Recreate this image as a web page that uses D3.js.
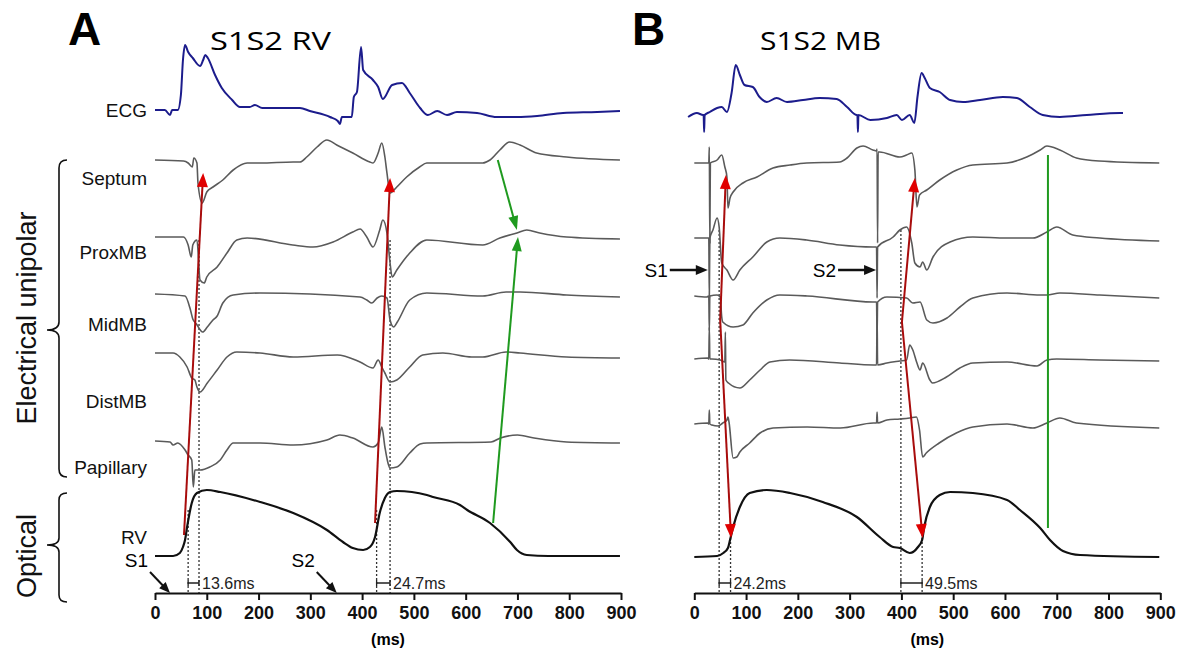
<!DOCTYPE html>
<html><head><meta charset="utf-8">
<script src="https://cdn.jsdelivr.net/npm/d3@7"></script>
<style>body{margin:0;background:#fff}svg{display:block}text{font-family:"Liberation Sans",Arial,sans-serif}</style>
</head><body>
<script>
// ---------- DATA (time in ms, amplitude in arbitrary units) ----------
const timeTicks = [0,100,200,300,400,500,600,700,800,900];
const channelNames = ["Septum","ProxMB","MidMB","DistMB","Papillary"];

const ecgA = [[0,0],[19,0],[29,-5],[33,0],[44,0],[50,15],[54,50],[58,65],[64,58],[73,52],[87,44],[93,50],[97,55],[102,52],[116,35],[129,22],[149,10],[164,3],[183,3],[193,5],[207,2],[241,2],[280,2],[299,-1],[338,-7],[353,-11],[357,-14],[361,-7],[380,-7],[384,13],[390,18],[398,63],[402,40],[421,30],[431,23],[440,11],[458,25],[477,27],[492,17],[512,2],[527,-5],[545,-1],[564,-5],[583,-2],[622,-3],[660,-7],[699,-7],[738,-6],[788,-3],[854,-2],[898,-1]];
const septumA = [[0,0],[55,-1],[64,-3],[72,-7],[75,2],[81,-3],[83,-23],[91,-43],[100,-32],[112,-27],[131,-20],[151,-10],[178,-3],[203,-3],[267,-2],[280,-2],[293,3],[313,13],[332,20],[351,15],[382,7],[415,-2],[421,-3],[431,7],[438,17],[444,3],[448,-13],[454,-33],[467,-27],[486,-17],[511,-7],[525,-3],[633,-3],[647,0],[666,10],[685,18],[705,15],[737,7],[795,3],[898,0]];
const proxA = [[0,0],[55,0],[64,-8],[70,-20],[73,-8],[81,-3],[87,-43],[95,-46],[100,-40],[120,-30],[139,-16],[158,-3],[178,-1],[266,-8],[305,-10],[344,-5],[382,5],[396,8],[409,0],[421,-10],[434,7],[440,17],[448,4],[454,-26],[458,-40],[467,-33],[492,-16],[525,-3],[633,-8],[666,-1],[699,4],[718,7],[743,4],[795,0],[898,-2]];
const midA = [[0,0],[58,-2],[68,-15],[73,-25],[80,-30],[92,-38],[101,-33],[112,-26],[120,-22],[131,-9],[151,-1],[203,1],[396,-3],[409,-6],[419,-9],[429,-4],[438,-2],[448,-4],[454,-26],[461,-33],[468,-28],[492,-6],[525,1],[633,-2],[678,2],[705,2],[795,-1],[898,-3]];
const distA = [[0,2],[35,2],[48,-2],[62,-12],[71,-23],[77,-25],[81,-32],[87,-37],[101,-28],[120,-15],[139,-2],[158,3],[203,2],[267,-2],[352,0],[396,-7],[421,-13],[431,-5],[438,-12],[444,-18],[454,-27],[467,-25],[492,-12],[517,0],[556,2],[612,-2],[633,-2],[678,3],[705,2],[795,-2],[898,-3]];
const papA = [[0,1],[29,0],[35,-3],[44,-1],[58,-8],[64,-13],[71,-18],[74,-45],[77,-28],[87,-28],[106,-25],[126,-18],[139,-8],[151,-1],[203,-1],[267,-3],[332,2],[357,7],[382,4],[421,-5],[431,-1],[438,15],[444,-5],[450,-21],[454,-26],[467,-25],[492,-11],[512,-2],[525,-1],[649,0],[667,4],[700,7],[732,4],[795,0],[898,-1]];
const rvA = [[0,0],[35,0],[48,3],[54,9],[58,16],[62,29],[71,53],[81,63],[100,66],[126,64],[203,54],[267,43],[332,26],[363,14],[382,8],[402,6],[415,9],[425,19],[434,43],[444,58],[454,64],[467,65],[525,61],[537,59],[589,51],[603,46],[647,33],[686,14],[699,6],[718,1],[760,0],[898,0]];

const ecgB = [[-12,-2],[5,2],[17,0],[18,0],[19,-17],[20,0],[30,3],[44,7],[53,8],[63,3],[72,22],[80,50],[88,40],[97,30],[113,28],[126,18],[140,13],[159,17],[179,13],[210,15],[242,17],[275,16],[295,8],[314,0],[315,0],[316,-17],[317,0],[340,-5],[372,-3],[391,0],[401,-5],[416,0],[425,-8],[431,18],[439,42],[445,37],[455,27],[474,23],[494,15],[519,13],[552,15],[596,18],[623,17],[648,8],[673,0],[706,-2],[758,0],[822,2],[828,2]];
const septumB = [[0,0],[24,0],[28,0],[29,16],[30,-80],[31,0],[44,3],[53,8],[59,-4],[63,-14],[65,-45],[69,-35],[75,-29],[94,-20],[121,-14],[152,-5],[185,-2],[217,0],[281,1],[295,5],[314,15],[326,17],[345,13],[352,12],[353,14],[354,-80],[355,11],[358,11],[397,6],[410,8],[420,10],[426,-7],[430,-44],[435,-32],[449,-27],[474,-17],[507,-7],[538,-2],[604,0],[642,6],[668,13],[681,17],[706,13],[738,5],[782,2],[898,0]];
const proxB = [[0,0],[24,0],[28,0],[29,-60],[30,0],[36,8],[44,20],[48,11],[53,-25],[63,-32],[75,-42],[88,-32],[113,-19],[140,-4],[165,0],[217,-2],[281,-7],[345,-9],[352,-9],[353,-60],[354,-9],[384,1],[397,8],[410,11],[420,-5],[426,-25],[436,-29],[441,-24],[449,-32],[461,-19],[494,-4],[538,1],[604,0],[654,0],[681,6],[700,11],[731,3],[783,0],[898,-3]];
const midB = [[0,0],[24,-1],[28,0],[29,-35],[30,0],[44,1],[50,-1],[53,-21],[55,-26],[75,-31],[94,-29],[113,-17],[140,-4],[165,1],[218,0],[345,-6],[352,-6],[353,-40],[354,-6],[372,-1],[410,-2],[422,-7],[436,-6],[449,-24],[461,-27],[488,-22],[513,-11],[538,-2],[604,3],[668,1],[681,1],[706,3],[783,1],[898,-2]];
const distB = [[0,0],[26,1],[28,0],[29,32],[30,0],[34,0],[50,-1],[59,-3],[60,27],[61,-21],[66,-24],[88,-29],[107,-21],[127,-11],[146,-3],[184,-1],[281,-4],[346,-6],[352,-6],[353,45],[354,-6],[372,-4],[397,-2],[410,-1],[416,14],[422,9],[430,-4],[436,-11],[441,-4],[455,-21],[460,-24],[487,-18],[513,-9],[538,-4],[604,-3],[662,-7],[681,-1],[700,0],[783,-1],[898,-2]];
const papB = [[0,0],[26,1],[28,0],[29,14],[30,0],[34,-1],[46,-2],[55,1],[63,4],[65,7],[67,2],[75,-34],[82,-33],[88,-28],[107,-19],[127,-9],[152,-4],[218,-3],[282,-4],[346,1],[352,1],[353,12],[354,1],[372,4],[397,5],[416,6],[429,7],[435,-6],[441,-33],[448,-29],[473,-19],[506,-9],[538,-3],[604,0],[654,-4],[681,1],[706,6],[738,1],[898,-4]];
const rvB = [[0,0],[44,1],[56,4],[65,9],[69,17],[75,30],[88,50],[107,64],[140,67],[185,64],[248,55],[314,40],[358,20],[384,10],[397,9],[416,4],[432,10],[440,17],[444,30],[455,50],[474,62],[494,65],[538,64],[604,57],[629,47],[668,29],[687,17],[712,6],[745,2],[898,0]];

// activation intervals (ms) and labels
const intervalsA = [{from:64,to:85,label:"13.6ms"},{from:428,to:454,label:"24.7ms"}];
const intervalsB = [{from:48,to:70,label:"24.2ms"},{from:399,to:440,label:"49.5ms"}];
// propagation arrows: [t, channel, amplitude]
const redArrowsA = [[[56,"RV",21],[93,"Septum",-13]],[[425,"RV",33],[454,"Septum",-18]]];
const greenArrowsA = [[[662,"Septum",0],[699,"ProxMB",7]],[[653,"RV",33],[701,"ProxMB",0]]];
const redArrowsB = [[[50,"MidMB",-24],[61,"Septum",-12]],[[50,"MidMB",-24],[71,"RV",19]],[[401,"MidMB",-26],[426,"Septum",-15]],[[401,"MidMB",-26],[441,"RV",19]]];
const greenLinesB = [[[683,"Septum",8],[683,"RV",29]]];
const stimA = [{label:"S1",t:29},{label:"S2",t:351}];
const stimB = [{label:"S1",t:28},{label:"S2",t:353}];

// ---------- LAYOUT ----------
const W = 1188, H = 655;
const svg = d3.select("body").append("svg").attr("width",W).attr("height",H);
const axisY = 593;
const panels = [
  {x0:155, title:"S1S2 RV", letter:"A", letterX:68, titleX:210,
   traces:{ECG:ecgA,Septum:septumA,ProxMB:proxA,MidMB:midA,DistMB:distA,Papillary:papA,RV:rvA},
   rows:{ECG:110,Septum:160,ProxMB:237,MidMB:294,DistMB:355,Papillary:442,RV:556},
   intervals:intervalsA, fromTop:510, toTop:240, red:redArrowsA, green:greenArrowsA, greenLines:[], stim:stimA, stimStyle:"diag"},
  {x0:694.3, title:"S1S2 MB", letter:"B", letterX:632, titleX:760,
   traces:{ECG:ecgB,Septum:septumB,ProxMB:proxB,MidMB:midB,DistMB:distB,Papillary:papB,RV:rvB},
   rows:{ECG:115,Septum:163,ProxMB:238,MidMB:296,DistMB:359,Papillary:424,RV:557},
   intervals:intervalsB, fromTop:230, toTop:530, red:redArrowsB, green:[], greenLines:greenLinesB, stim:stimB, stimStyle:"horiz"}
];

function drawArrow(g, x1,y1,x2,y2, lineColor, headColor, hl, hw, sw){
  const dx=x2-x1, dy=y2-y1, L=Math.hypot(dx,dy), ux=dx/L, uy=dy/L;
  const bx=x2-ux*hl, by=y2-uy*hl;
  g.append("line").attr("x1",x1).attr("y1",y1).attr("x2",bx+ux*2).attr("y2",by+uy*2)
    .attr("stroke",lineColor).attr("stroke-width",sw);
  g.append("path").attr("d",`M${x2},${y2}L${bx-uy*hw/2},${by+ux*hw/2}L${bx+uy*hw/2},${by-ux*hw/2}Z`).attr("fill",headColor);
}

panels.forEach(p=>{
  const g = svg.append("g");
  const x = d3.scaleLinear().domain([0,900]).range([p.x0, p.x0+466]);
  const amp = d3.scaleLinear().domain([0,1]).range([0,-1]);
  const yOf = (ch,a)=> p.rows[ch] + amp(a);

  // title
  svg.append("text").attr("x",p.letterX).attr("y",45).attr("font-size",46).attr("font-weight","bold").text(p.letter);
  svg.append("text").attr("x",p.titleX).attr("y",50).attr("font-size",25)
    .style("font-family","'Open Sans',sans-serif").attr("textLength",121).attr("lengthAdjust","spacingAndGlyphs").text(p.title);

  // dotted interval lines
  p.intervals.forEach(iv=>{
    g.append("line").attr("x1",x(iv.from)).attr("x2",x(iv.from)).attr("y1",p.fromTop).attr("y2",axisY)
      .attr("stroke","#333").attr("stroke-width",1.3).attr("stroke-dasharray","2,2");
    g.append("line").attr("x1",x(iv.to)).attr("x2",x(iv.to)).attr("y1",p.toTop).attr("y2",axisY)
      .attr("stroke","#333").attr("stroke-width",1.3).attr("stroke-dasharray","2,2");
    const by=583;
    g.append("path").attr("d",`M${x(iv.from)},${by-3}V${by+3}M${x(iv.from)},${by}H${x(iv.to)}M${x(iv.to)},${by-3}V${by+3}`)
      .attr("stroke","#222").attr("stroke-width",1.3).attr("fill","none");
    g.append("text").attr("x",x(iv.to)+3).attr("y",by+6).attr("font-size",16).attr("fill","#222").text(iv.label);
  });

  // traces
  const line = d3.line().x(d=>x(d[0])).curve(d3.curveMonotoneX);
  Object.keys(p.traces).forEach(ch=>{
    const isECG = ch==="ECG", isRV = ch==="RV";
    line.y(d=>yOf(ch,d[1]));
    g.append("path").attr("d",line(p.traces[ch])).attr("fill","none")
      .attr("stroke", isECG? "#1c1c8c" : isRV? "#111" : "#5a5a5a")
      .attr("stroke-width", isECG? 2 : isRV? 2.2 : 1.6).attr("stroke-linejoin","round");
  });

  // red arrows
  p.red.forEach(([s,e])=>drawArrow(g, x(s[0]), yOf(s[1],s[2]), x(e[0]), yOf(e[1],e[2]), "#a80c0c","#e00000",14,11,2));
  p.green.forEach(([s,e])=>drawArrow(g, x(s[0]), yOf(s[1],s[2]), x(e[0]), yOf(e[1],e[2]), "#1f9a1f","#1f9a1f",14,10,2));
  p.greenLines.forEach(([s,e])=>g.append("line").attr("x1",x(s[0])).attr("x2",x(e[0])).attr("y1",yOf(s[1],s[2])).attr("y2",yOf(e[1],e[2])).attr("stroke","#1f9a1f").attr("stroke-width",2));

  // stimulus markers
  p.stim.forEach(s=>{
    if(p.stimStyle==="diag"){
      const tx=x(s.t), ty=axisY;
      drawArrow(g, tx-20, ty-21, tx, ty, "#111","#111",11,9,2);
      g.append("text").attr("x",tx-22).attr("y",ty-26).attr("text-anchor","end").attr("font-size",19).text(s.label);
    } else {
      const tx=x(s.t)-1, ty=270;
      drawArrow(g, tx-38, ty, tx, ty, "#111","#111",12,10,2.5);
      g.append("text").attr("x",tx-40).attr("y",ty+7).attr("text-anchor","end").attr("font-size",19).text(s.label);
    }
  });

  // axis
  const ax = g.append("g").attr("transform",`translate(0,${axisY})`)
    .call(d3.axisBottom(x).tickValues(timeTicks).tickSize(7).tickSizeOuter(0).tickPadding(6).tickFormat(d3.format("d")));
  ax.select(".domain").attr("stroke","#111").attr("stroke-width",2.2);
  ax.selectAll(".tick line").attr("stroke","#111").attr("stroke-width",2);
  ax.selectAll(".tick text").attr("font-size",18).attr("font-weight","bold").attr("fill","#111")
    .style("font-family","'Liberation Sans',Arial,sans-serif");
  g.append("text").attr("x",x(450)).attr("y",645).attr("text-anchor","middle").attr("font-size",16).attr("font-weight","bold").text("(ms)");
});

// left labels for panel A
const labelRows = {ECG:110,Septum:178,ProxMB:252,MidMB:324,DistMB:401,Papillary:467,RV:537};
const L = svg.append("g");
["ECG",...channelNames,"RV"].forEach(n=>{
  L.append("text").attr("x",147).attr("y",labelRows[n]+7).attr("text-anchor","end").attr("font-size",19).attr("fill","#111").text(n);
});
// braces
L.append("path").attr("d","M67,160 Q59,160 59,168 V322 Q59,330 47,330 Q59,330 59,338 V469 Q59,477 67,477")
  .attr("fill","none").attr("stroke","#111").attr("stroke-width",1.6);
L.append("path").attr("d","M67,493 Q59,493 59,500 V538 Q59,545 47,545 Q59,545 59,552 V595 Q59,602 67,602")
  .attr("fill","none").attr("stroke","#111").attr("stroke-width",1.6);
L.append("text").attr("transform","translate(36,318) rotate(-90)").attr("text-anchor","middle").attr("font-size",27).attr("fill","#111").text("Electrical unipolar");
L.append("text").attr("transform","translate(36,556) rotate(-90)").attr("text-anchor","middle").attr("font-size",27).attr("fill","#111").text("Optical");
</script>
</body></html>
